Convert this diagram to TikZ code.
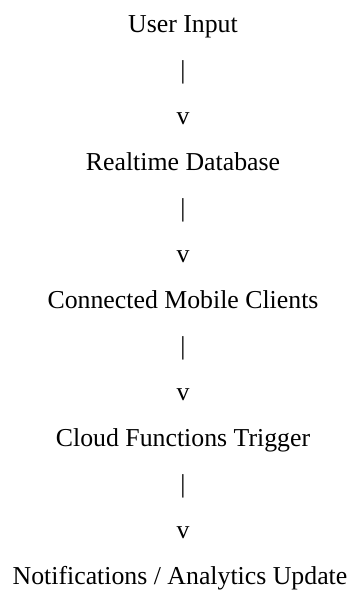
\documentclass[tikz,border=0pt]{standalone}
\usepackage{fontspec}
\setmainfont{Liberation Serif}
\begin{document}
\begin{tikzpicture}[x=1pt,y=1pt,
  lbl/.style={inner sep=0pt,outer sep=0pt,anchor=base,font=\fontsize{25.8}{30}\selectfont}]
\useasboundingbox (0,0) rectangle (358,-590);
\node[lbl] (n1) at (183,-32.3) {User Input};
\node[lbl] (b1) at (183,-78.3) {|};
\node[lbl] (v1) at (183,-124.3) {v};
\node[lbl] (n2) at (183,-170.3) {Realtime Database};
\node[lbl] (b2) at (183,-216.3) {|};
\node[lbl] (v2) at (183,-262.3) {v};
\node[lbl] (n3) at (183,-308.3) {Connected Mobile Clients};
\node[lbl] (b3) at (183,-354.3) {|};
\node[lbl] (v3) at (183,-400.3) {v};
\node[lbl] (n4) at (183,-446.3) {Cloud Functions Trigger};
\node[lbl] (b4) at (183,-492.3) {|};
\node[lbl] (v4) at (183,-538.3) {v};
\node[lbl] (n5) at (180,-584.3) {Notifications / Analytics Update};
\end{tikzpicture}
\end{document}
